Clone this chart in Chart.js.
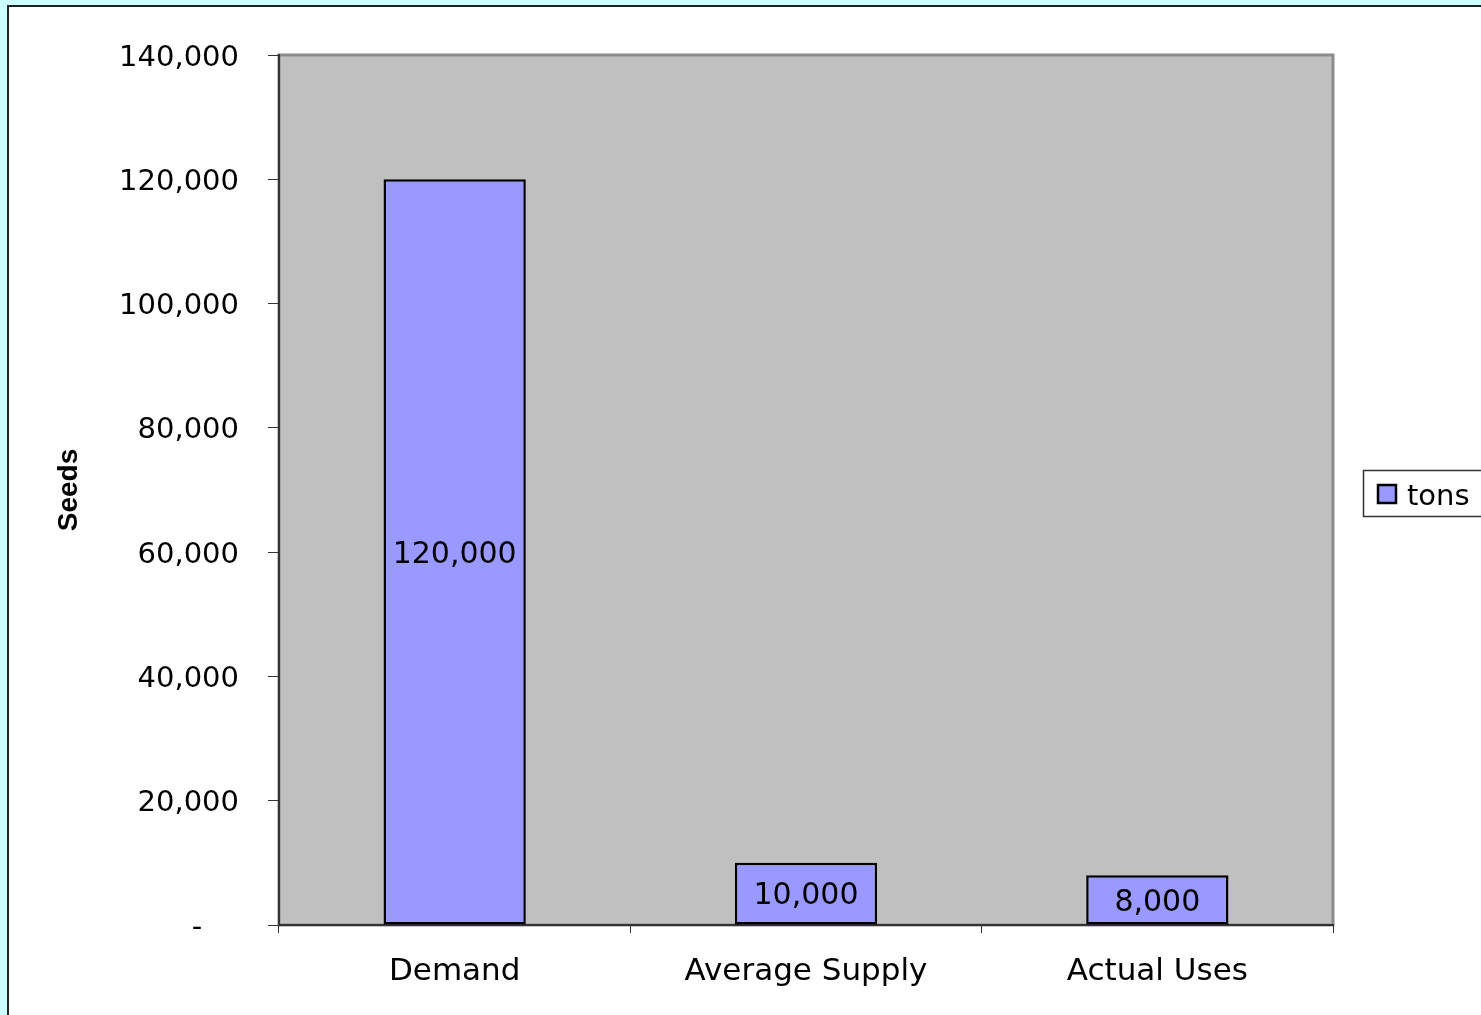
<!DOCTYPE html>
<html lang="en">
<head>
  <meta charset="UTF-8">
  <title>Seeds</title>
  <script src="https://cdn.jsdelivr.net/npm/chart.js@4.4.1/dist/chart.umd.min.js"></script>
  <style>
    body {
      margin: 0;
      padding: 0;
      overflow: hidden;
      background: #ccffff;
    }
    /* white page frame behind the chart */
    #frame {
      position: absolute;
      left: 7px;
      top: 5px;
      width: 1520px;
      height: 1100px;
      background: #ffffff;
      border: 2px solid #222;
    }
    #wrap {
      position: absolute;
      left: 0;
      top: 0;
      width: 1481px;
      height: 1015px;
    }
  </style>
</head>
<body>
  <div id="frame"></div>
  <div id="wrap"><canvas id="seedsChart" width="1481" height="1015"></canvas></div>

  <script>
    const categories = ["Demand", "Average Supply", "Actual Uses"];
    const tons = [120000, 10000, 8000];
    const seriesName = "tons";
    const axisTitle = "Seeds";

    const barColor = "#9999ff";
    const fmt = v => v.toLocaleString("en-US");

    // gray plot area with its frame
    const plotBg = {
      id: "plotBg",
      beforeDraw(chart) {
        const { ctx, chartArea: a } = chart;
        ctx.save();
        ctx.fillStyle = "#c0c0c0";
        ctx.fillRect(a.left, a.top, a.right - a.left, a.bottom - a.top);
        ctx.strokeStyle = "#8c8c8c";
        ctx.lineWidth = 3;
        ctx.strokeRect(a.left, a.top, a.right - a.left, a.bottom - a.top);
        ctx.restore();
      }
    };

    // values written in the middle of each bar
    const barLabels = {
      id: "barLabels",
      afterDatasetsDraw(chart) {
        const { ctx } = chart;
        const meta = chart.getDatasetMeta(0);
        ctx.save();
        ctx.font = "30px 'DejaVu Sans'";
        ctx.fillStyle = "#000";
        ctx.textAlign = "center";
        ctx.textBaseline = "middle";
        meta.data.forEach((bar, i) => {
          const y = (bar.y + bar.base) / 2;
          ctx.fillText(fmt(chart.data.datasets[0].data[i]), bar.x, y + 3);
        });
        ctx.restore();
      }
    };

    // boxed legend on the right, cut by the page edge
    const sideLegend = {
      id: "sideLegend",
      afterDraw(chart) {
        const { ctx } = chart;
        const ds = chart.data.datasets[0];
        ctx.save();
        ctx.fillStyle = "#fff";
        ctx.strokeStyle = "#333";
        ctx.lineWidth = 1.5;
        ctx.fillRect(1363.5, 470.5, 140, 46);
        ctx.strokeRect(1363.5, 470.5, 140, 46);
        ctx.fillStyle = ds.backgroundColor;
        ctx.fillRect(1378, 485, 18, 18);
        ctx.strokeStyle = "#000";
        ctx.lineWidth = 2.5;
        ctx.strokeRect(1378, 485, 18, 18);
        ctx.fillStyle = "#000";
        ctx.font = "29px 'DejaVu Sans'";
        ctx.textBaseline = "middle";
        ctx.fillText(ds.label, 1407, 497);
        ctx.restore();
      }
    };

    const ctx = document.getElementById("seedsChart").getContext("2d");
    new Chart(ctx, {
      type: "bar",
      data: {
        labels: categories,
        datasets: [{
          label: seriesName,
          data: tons,
          backgroundColor: barColor,
          borderColor: "#000",
          borderWidth: 2.5,
          borderSkipped: false,
          categoryPercentage: 1,
          barPercentage: 0.405
        }]
      },
      options: {
        responsive: false,
        animation: false,
        layout: { padding: { top: 55, right: 148, left: 40, bottom: 0 } },
        plugins: {
          legend: { display: false },
          tooltip: { enabled: false }
        },
        scales: {
          x: {
            afterFit(scale) { scale.height = 90; },
            grid: {
              drawOnChartArea: false,
              drawTicks: true,
              tickLength: 8,
              color: "#333",
              offset: true
            },
            border: { color: "#333", width: 2 },
            ticks: {
              color: "#000",
              padding: 20,
              font: { family: "'DejaVu Sans'", size: 31 }
            }
          },
          y: {
            min: 0,
            max: 140000,
            afterFit(scale) { scale.width = 239; },
            grid: {
              drawOnChartArea: false,
              drawTicks: true,
              tickLength: 11,
              color: "#333"
            },
            border: { color: "#333", width: 2 },
            ticks: {
              stepSize: 20000,
              color: "#000",
              padding: 29,
              labelOffset: 3,
              font: { family: "'DejaVu Sans'", size: 29 },
              callback: v => v === 0 ? "-    " : fmt(v)
            },
            title: {
              display: true,
              text: axisTitle,
              color: "#000",
              padding: { top: 12, bottom: 0 },
              font: { family: "'Liberation Sans'", size: 28, weight: "bold" }
            }
          }
        }
      },
      plugins: [plotBg, barLabels, sideLegend]
    });
  </script>
</body>
</html>
